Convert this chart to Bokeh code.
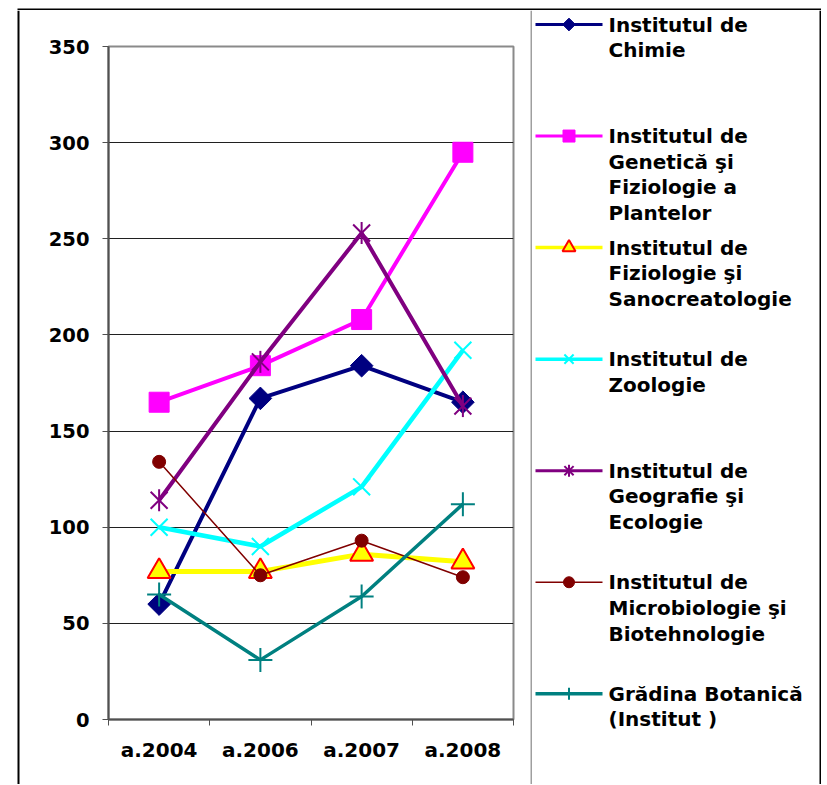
import numpy as np
from bokeh.plotting import figure
from bokeh.models import Range1d, FixedTicker, Span
from bokeh.layouts import row, column
from bokeh.embed import file_html
from bokeh.resources import INLINE
from bokeh.core.properties import value

# ---------------- data ----------------
categories = ["a.2004", "a.2006", "a.2007", "a.2008"]
y_ticks = [0, 50, 100, 150, 200, 250, 300, 350]

chimie = [60, 167, 184, 165]
genetica = [165, 184, 208, 295]
fiziologie = [77, 77, 86, 82]
zoologie = [100, 90, 121, 192]
geografie = [114, 186, 253, 163]
microbiologie = [134, 75, 93, 74]
gradina = [65, 31, 64, 112]

series_names = [
    "Institutul de\nChimie",
    "Institutul de\nGenetică şi\nFiziologie a\nPlantelor",
    "Institutul de\nFiziologie şi\nSanocreatologie",
    " Institutul de\nZoologie",
    "Institutul de\nGeografie şi\nEcologie",
    " Institutul de\nMicrobiologie şi\nBiotehnologie",
    "Grădina Botanică\n(Institut )",
]
series_values = [chimie, genetica, fiziologie, zoologie, geografie, microbiologie, gradina]

# ---------------- styles ----------------
styles = [
    dict(color="#000080", lw=4, lw_leg=3,
         markers=[dict(marker="square", angle=np.pi / 4, size=16, lsize=9,
                       fill_color="#000080", line_color="#000080", line_width=1)]),
    dict(color="#FF00FF", lw=4, lw_leg=3,
         markers=[dict(marker="square", angle=0, size=20, lsize=12,
                       fill_color="#FF00FF", line_color="#FF00FF", line_width=1)]),
    dict(color="#FFFF00", lw=5, lw_leg=3.5,
         markers=[dict(marker="triangle", angle=0, size=23, lsize=13,
                       fill_color="#FFFF00", line_color="#FF0000", line_width=2)]),
    dict(color="#00FFFF", lw=4.5, lw_leg=3.5,
         markers=[dict(marker="x", angle=0, size=24, lsize=13,
                       fill_color=None, line_color="#00FFFF", line_width=2)]),
    dict(color="#800080", lw=4, lw_leg=3,
         markers=[dict(marker="x", angle=0, size=24, lsize=13,
                       fill_color=None, line_color="#800080", line_width=2),
                  dict(marker="dash", angle=np.pi / 2, size=22, lsize=12,
                       fill_color=None, line_color="#800080", line_width=2)]),
    dict(color="#800000", lw=1.5, lw_leg=1.5,
         markers=[dict(marker="circle", angle=0, size=13, lsize=11,
                       fill_color="#800000", line_color="#800000", line_width=1)]),
    dict(color="#008080", lw=3.5, lw_leg=3.5,
         markers=[dict(marker="cross", angle=0, size=24, lsize=12,
                       fill_color=None, line_color="#008080", line_width=2)]),
]

FONT = value("DejaVu Sans")
H = 784          # total height
TOP = 10         # height of the top border strip
RH = H - TOP     # height of the row below it
W_TOTAL = 821
LEFT_W = 20


def bare(width, height, x_range, y_range):
    f = figure(width=width, height=height, x_range=x_range, y_range=y_range,
               output_backend="svg", toolbar_location=None, title=None,
               x_axis_location=None, y_axis_location=None, min_border=0)
    f.frame_align = False
    f.grid.visible = False
    f.outline_line_color = None
    f.background_fill_color = "white"
    f.border_fill_color = "white"
    return f


# ---------------- outer border strips ----------------
top = bare(W_TOTAL, TOP, Range1d(0, W_TOTAL), Range1d(TOP, 0))
top.quad(left=[17], right=[W_TOTAL], top=[6], bottom=[8],
         fill_color="black", line_color=None)

left = bare(LEFT_W, RH, Range1d(0, LEFT_W), Range1d(RH, 0))
left.add_layout(Span(location=18, dimension="height", line_color="black", line_width=2))

# ---------------- main chart ----------------
x = np.arange(len(categories)) + 0.5

p = figure(width=530 - LEFT_W, height=RH, x_range=Range1d(0, len(categories)),
           y_range=Range1d(y_ticks[0], y_ticks[-1]),
           output_backend="svg", toolbar_location=None, title=None,
           min_border_left=108 - LEFT_W, min_border_right=17,
           min_border_top=46 - TOP, min_border_bottom=H - 719)
p.frame_align = False
p.background_fill_color = "white"
p.border_fill_color = "white"
p.outline_line_color = "#8a8a8a"
p.outline_line_width = 2

p.xgrid.visible = False
p.ygrid.ticker = FixedTicker(ticks=y_ticks[1:-1])
p.ygrid.grid_line_color = "#202020"
p.ygrid.grid_line_width = 1

p.yaxis.ticker = FixedTicker(ticks=y_ticks)
p.yaxis.axis_line_color = "#505050"
p.yaxis.axis_line_width = 2
p.yaxis.major_tick_line_color = "#505050"
p.yaxis.major_tick_in = 0
p.yaxis.major_tick_out = 6
p.yaxis.minor_tick_line_color = None
p.yaxis.major_label_text_font = "DejaVu Sans"
p.yaxis.major_label_text_font_style = "bold"
p.yaxis.major_label_text_font_size = "19.5px"
p.yaxis.major_label_text_color = "black"
p.yaxis.major_label_standoff = 13

p.xaxis.ticker = FixedTicker(ticks=list(x), minor_ticks=list(range(len(categories) + 1)))
p.xaxis.major_label_overrides = {float(xi): c for xi, c in zip(x, categories)}
p.xaxis.axis_line_color = "#505050"
p.xaxis.axis_line_width = 2
p.xaxis.major_tick_line_color = None
p.xaxis.major_tick_in = 0
p.xaxis.major_tick_out = 0
p.xaxis.minor_tick_line_color = "#505050"
p.xaxis.minor_tick_in = 0
p.xaxis.minor_tick_out = 6
p.xaxis.major_label_text_font = "DejaVu Sans"
p.xaxis.major_label_text_font_style = "bold"
p.xaxis.major_label_text_font_size = "20px"
p.xaxis.major_label_text_color = "black"
p.xaxis.major_label_standoff = 12

for vals, st in zip(series_values, styles):
    p.line(x, vals, line_color=st["color"], line_width=st["lw"])
    for m in st["markers"]:
        p.scatter(x, vals, marker=m["marker"], size=m["size"], angle=m["angle"],
                  fill_color=m["fill_color"], line_color=m["line_color"],
                  line_width=m["line_width"])

# ---------------- legend panel ----------------
LX0 = 530
LW = W_TOTAL - LX0
q = bare(LW, RH, Range1d(0, LW), Range1d(H, TOP))   # y in page pixels

q.add_layout(Span(location=0.5, dimension="height", line_color="#404040", line_width=1))
q.add_layout(Span(location=LW - 1, dimension="height", line_color="black", line_width=2))

item_y = 24 + 111.55 * np.arange(len(series_names))
gx0, gx1, gxm = 535 - LX0, 602 - LX0, 568.5 - LX0
for yi, st in zip(item_y, styles):
    q.line([gx0, gx1], [yi, yi], line_color=st["color"], line_width=st["lw_leg"])
    for m in st["markers"]:
        q.scatter([gxm], [yi], marker=m["marker"], size=m["lsize"], angle=m["angle"],
                  fill_color=m["fill_color"], line_color=m["line_color"],
                  line_width=m["line_width"])

q.text(x=[608 - LX0] * len(series_names), y=list(item_y - 12), text=series_names,
       text_font=FONT, text_font_style="bold", text_font_size="20px",
       text_color="black", text_baseline="top", text_align="left",
       text_line_height=1.07)

layout = column(top, row(left, p, q))
open("out.html", "w").write(file_html(layout, INLINE))
